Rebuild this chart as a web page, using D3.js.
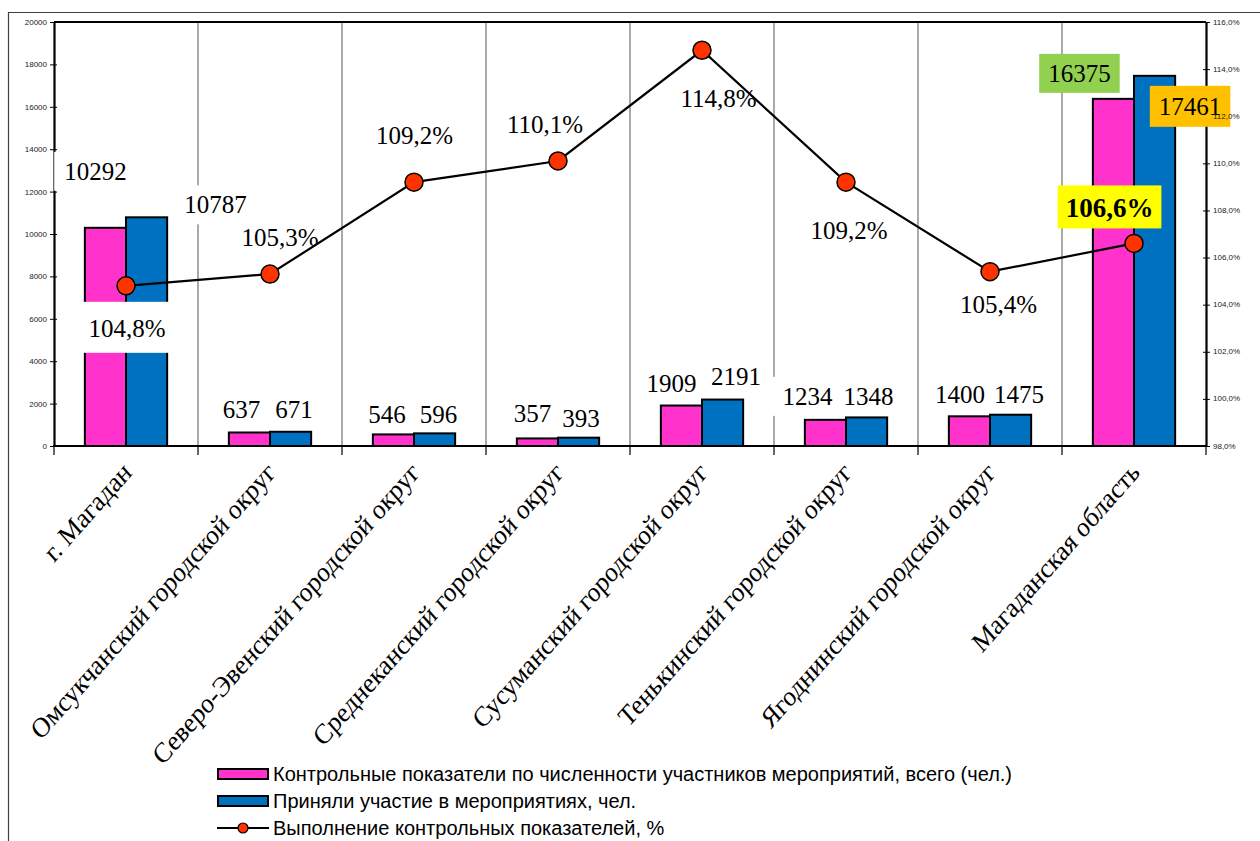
<!DOCTYPE html>
<html><head><meta charset="utf-8">
<script src="https://cdn.jsdelivr.net/npm/d3@7"></script>
<style>body{margin:0;background:#fff} svg{display:block}</style>
</head><body>
<svg id="chart" width="1260" height="841"></svg>
<script>
// ---------- DATA ----------
const categories = ["г. Магадан","Омсукчанский городской округ","Северо-Эвенский городской округ","Среднеканский городской округ","Сусуманский городской округ","Тенькинский городской округ","Ягоднинский городской округ","Магаданская область"];
const planned = [10292, 637, 546, 357, 1909, 1234, 1400, 16375];
const actual = [10787, 671, 596, 393, 2191, 1348, 1475, 17461];
const completion = [104.8, 105.3, 109.2, 110.1, 114.8, 109.2, 105.4, 106.6];
const leftTicks = [0, 2000, 4000, 6000, 8000, 10000, 12000, 14000, 16000, 18000, 20000];
const rightTicks = [98, 100, 102, 104, 106, 108, 110, 112, 114, 116];
const seriesNames = ["Контрольные показатели по численности участников мероприятий, всего (чел.)","Приняли участие в мероприятиях, чел.","Выполнение контрольных показателей, %"];

// ---------- LAYOUT (label offsets from their marks) ----------
const plannedLabelOff = [[-10,-48],[-8,-14.5],[-6.5,-11],[-5,-16],[-10,-13.5],[-18,-15],[-9.5,-13],[-34,-17]];
const actualLabelOff = [[69,-4],[3.5,-14],[4,-10],[2.5,-11],[13.5,-14.6],[2,-12],[8.5,-12],[35.5,39]];
const lineLabelOff = [[1,51],[10,-28],[0.5,-38],[-13,-28],[16.5,57],[3,57],[8.5,41],[-24.5,-26]];

const PINK = "#FF33CC", BLUE = "#0070C0", RED = "#FF3300";
const SERIF = "'Liberation Serif','Times New Roman',serif";
const SANS = "'Liberation Sans',Arial,sans-serif";

const svg = d3.select("#chart");
const L = 54, R = 1206, T = 22, B = 446;

const x = d3.scaleBand().domain(categories).range([L, R]);
const y = d3.scaleLinear().domain([0, 20000]).range([B, T]);
const y2 = d3.scaleLinear().domain([98, 116]).range([B, T]);
const bw = x.bandwidth();
const barW = bw / 3.5;
const pct = v => d3.format(".1f")(v).replace(".", ",") + "%";

// layers
const gFrame = svg.append("g");
const gGrid = svg.append("g");
const gAxes = svg.append("g");
const gBarBoxes = svg.append("g");
const gBars = svg.append("g");
const gLine = svg.append("g");
const gTopBoxes = svg.append("g");
const gTexts = svg.append("g");
const gRightText = svg.append("g");
const gLegend = svg.append("g");

// outer frame
gFrame.append("path").attr("d", "M8.5,841 V12.5 H1260").attr("fill", "none").attr("stroke", "#404040").attr("stroke-width", 1.2);

// gridlines at category boundaries
const bounds = categories.map(c => x(c)).concat([R]);
gGrid.selectAll("line").data(bounds.slice(1, -1)).join("line")
  .attr("x1", d => d).attr("x2", d => d).attr("y1", T).attr("y2", B)
  .attr("stroke", "#8c8c8c").attr("stroke-width", 1.5);

// top border
gAxes.append("line").attr("x1", L).attr("x2", R).attr("y1", T).attr("y2", T).attr("stroke", "#000").attr("stroke-width", 2.2);

// left axis
const ax = gAxes.append("g").attr("transform", `translate(${L},0)`)
  .call(d3.axisLeft(y).tickValues(leftTicks).tickSize(4).tickSizeOuter(0).tickPadding(3).tickFormat(d3.format("d")));
ax.select(".domain").attr("stroke-width", 2.2);
ax.selectAll(".tick line").attr("x1", 3).attr("stroke-width", 1);
ax.selectAll(".tick text").attr("font-family", SANS).attr("font-size", 8).attr("fill", "#222");

// right axis
const ay = gAxes.append("g").attr("transform", `translate(${R},0)`)
  .call(d3.axisRight(y2).tickValues(rightTicks).tickSize(4).tickSizeOuter(0).tickFormat(() => ""));
ay.select(".domain").attr("stroke-width", 2.2);
ay.selectAll(".tick line").attr("x1", -3).attr("stroke-width", 1);
gRightText.attr("transform", `translate(${R},0)`).selectAll("text").data(rightTicks).join("text")
  .attr("x", 7).attr("y", d => y2(d)).attr("dy", "0.32em")
  .attr("font-family", SANS).attr("font-size", 8).attr("fill", "#222").text(d => pct(d));

// x axis
gAxes.append("line").attr("x1", L - 1).attr("x2", R + 1).attr("y1", B).attr("y2", B).attr("stroke", "#000").attr("stroke-width", 2.2);
gAxes.selectAll(".xt").data(bounds).join("line").attr("class", "xt")
  .attr("x1", d => d).attr("x2", d => d).attr("y1", B).attr("y2", B + 9).attr("stroke", "#000").attr("stroke-width", 1.2);
gAxes.selectAll(".xl").data(categories).join("text").attr("class", "xl")
  .attr("transform", d => `translate(${x(d) + bw / 2 + 7},${B + 28}) scale(1,1.13) rotate(-45)`)
  .attr("text-anchor", "end").attr("font-family", SERIF).attr("font-size", 25).attr("fill", "#000")
  .text(d => d);

// bars
const px = c => x(c) + bw / 2 - barW;
const bx = c => x(c) + bw / 2;
gBars.selectAll(".p").data(categories).join("rect").attr("class", "p")
  .attr("x", c => px(c)).attr("width", barW)
  .attr("y", (c, i) => y(planned[i])).attr("height", (c, i) => B - y(planned[i]))
  .attr("fill", PINK).attr("stroke", "#000").attr("stroke-width", 2);
gBars.selectAll(".b").data(categories).join("rect").attr("class", "b")
  .attr("x", c => bx(c)).attr("width", barW)
  .attr("y", (c, i) => y(actual[i])).attr("height", (c, i) => B - y(actual[i]))
  .attr("fill", BLUE).attr("stroke", "#000").attr("stroke-width", 2);

// line + markers
const cx = c => x(c) + bw / 2;
const line = d3.line().x(d => cx(d.c)).y(d => y2(d.v));
const pts = categories.map((c, i) => ({c, v: completion[i]}));
gLine.append("path").datum(pts).attr("d", line).attr("fill", "none").attr("stroke", "#000").attr("stroke-width", 2.2);
gLine.selectAll("circle").data(pts).join("circle")
  .attr("cx", d => cx(d.c)).attr("cy", d => y2(d.v)).attr("r", 9)
  .attr("fill", RED).attr("stroke", "#000").attr("stroke-width", 1.5);

// labels
const labels = [];
categories.forEach((c, i) => {
  labels.push({t: String(planned[i]), x: px(c) + barW / 2 + plannedLabelOff[i][0], y: y(planned[i]) + plannedLabelOff[i][1],
    box: i === 7 ? "#92D050" : "#fff", layer: i === 7 ? gTopBoxes : gBarBoxes, pad: i === 7 ? [9, 6, 6] : [10, 6, 6]});
  labels.push({t: String(actual[i]), x: bx(c) + barW / 2 + actualLabelOff[i][0], y: y(actual[i]) + actualLabelOff[i][1],
    box: i === 7 ? "#FFC000" : "#fff", layer: i === 7 ? gTopBoxes : gBarBoxes, pad: i === 7 ? [9, 7, 7] : [10, 6, 6]});
  const lab = {t: pct(completion[i]), x: cx(c) + lineLabelOff[i][0], y: y2(completion[i]) + lineLabelOff[i][1], box: null};
  if (i === 0) { lab.box = "#fff"; lab.layer = gTopBoxes; lab.pad = [7, 13, 11]; }
  if (i === 7) { lab.box = "#FFFF00"; lab.layer = gTopBoxes; lab.pad = [8, 8, 5]; lab.bold = true; }
  labels.push(lab);
});
labels.forEach(l => {
  const t = gTexts.append("text").attr("x", l.x).attr("y", l.y).attr("text-anchor", "middle")
    .attr("font-family", SERIF).attr("font-size", l.bold ? 27 : 25).attr("font-weight", l.bold ? "bold" : "normal")
    .attr("fill", "#000").text(l.t);
  if (l.box) {
    const bb = t.node().getBBox();
    l.layer.append("rect").attr("x", bb.x - l.pad[0]).attr("y", bb.y - l.pad[1])
      .attr("width", bb.width + 2 * l.pad[0]).attr("height", bb.height + l.pad[1] + l.pad[2])
      .attr("fill", l.box);
  }
});

// legend
const legY = [774, 801, 828];
const lg = gLegend.selectAll("g").data(seriesNames).join("g").attr("transform", (d, i) => `translate(217,${legY[i]})`);
lg.filter((d, i) => i < 2).append("rect").attr("x", 1).attr("y", -5).attr("width", 50).attr("height", 10)
  .attr("fill", (d, i) => i === 0 ? PINK : BLUE).attr("stroke", "#000").attr("stroke-width", 2);
const l3 = lg.filter((d, i) => i === 2);
l3.append("line").attr("x1", 0).attr("x2", 52).attr("y1", 0).attr("y2", 0).attr("stroke", "#000").attr("stroke-width", 2);
l3.append("circle").attr("cx", 26).attr("cy", 0).attr("r", 5).attr("fill", RED).attr("stroke", "#000").attr("stroke-width", 1.2);
lg.append("text").attr("x", 56).attr("y", 0).attr("dy", "0.35em").attr("font-family", SANS).attr("font-size", 20).attr("fill", "#000").text(d => d);
</script>
</body></html>
